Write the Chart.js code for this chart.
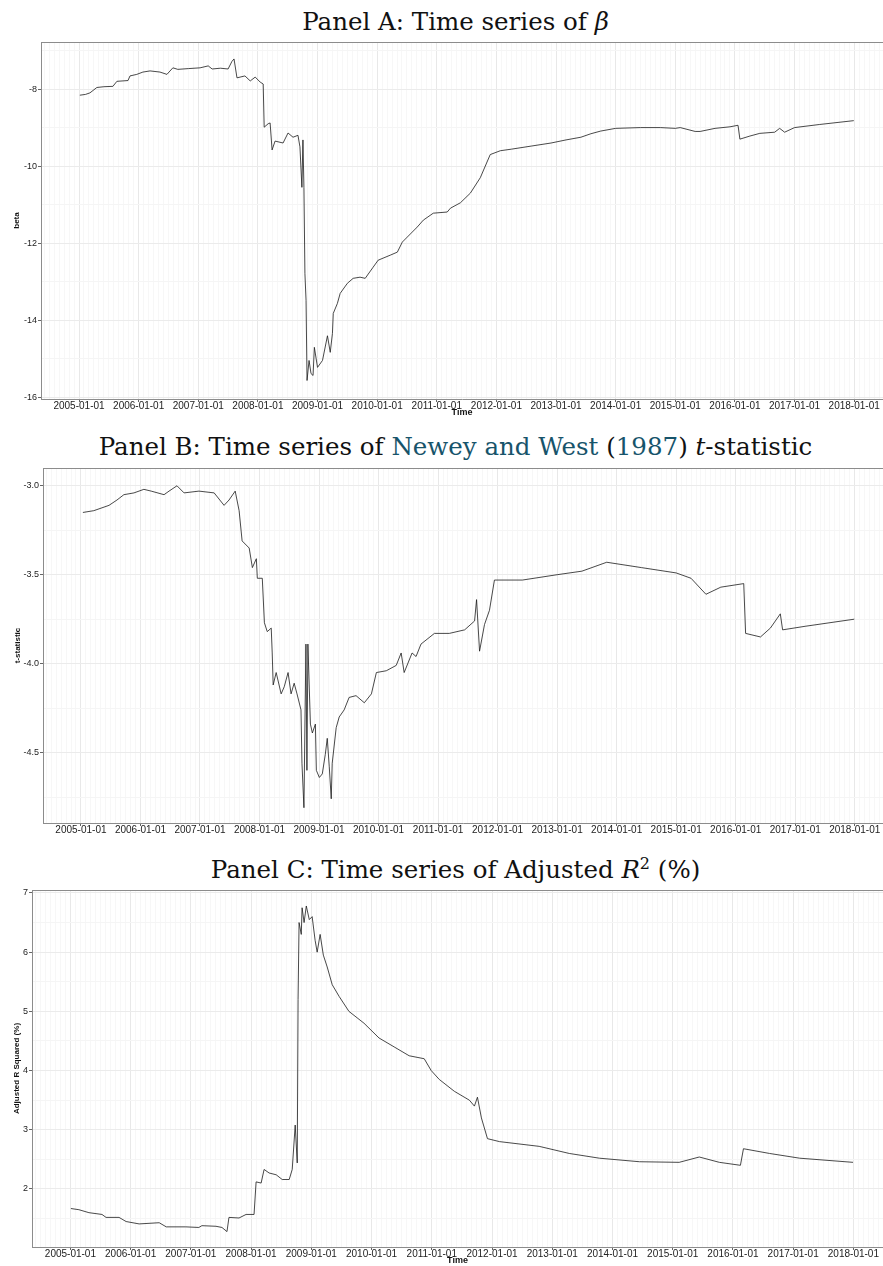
<!DOCTYPE html>
<html>
<head>
<meta charset="utf-8">
<script src="https://cdn.jsdelivr.net/npm/chart.js@4.4.0/dist/chart.umd.min.js"></script>
<style>
  html, body { margin: 0; padding: 0; background: #fff; }
  body { width: 883px; height: 1266px; position: relative; overflow: hidden; }
  .title { position: absolute; left: 14px; width: 883px; text-align: center; font-family: "DejaVu Serif", "Liberation Serif", serif; font-size: 24.5px; color: #111; white-space: nowrap; line-height: 28px; }
  .title .link { color: #17546b; }
  .box { position: absolute; left: 0; width: 883px; }
</style>
</head>
<body>
<div class="title" style="top:8px">Panel A: Time series of <i>β</i></div>
<div class="box" style="top:30px;height:388px"><canvas id="chartA"></canvas></div>
<div class="title" style="top:433px">Panel B: Time series of <span class="link">Newey and West</span> (<span class="link">1987</span>) <i>t</i>-statistic</div>
<div class="box" style="top:455px;height:380px"><canvas id="chartB"></canvas></div>
<div class="title" style="top:856px">Panel C: Time series of Adjusted <i>R</i><sup style="font-size:16px;line-height:0">2</sup> (%)</div>
<div class="box" style="top:878px;height:388px"><canvas id="chartC"></canvas></div>
<script>
// Panel A: rolling beta
const betaDates = ['2005-01-06','2005-02-10','2005-03-07','2005-04-19','2005-06-01','2005-07-26','2005-08-20','2005-10-27','2005-11-09','2005-12-20',
  '2006-01-27','2006-03-10','2006-05-10','2006-06-22','2006-07-28','2006-08-28','2006-11-01','2007-01-12','2007-03-01','2007-03-25',
  '2007-05-15','2007-07-01','2007-07-25','2007-08-07','2007-08-25','2007-10-13','2007-11-15','2007-12-15','2008-01-15','2008-02-03',
  '2008-02-09','2008-03-03','2008-03-15','2008-03-27','2008-04-15','2008-06-03','2008-07-03','2008-08-03','2008-09-03','2008-09-15',
  '2008-09-27','2008-10-03','2008-10-09','2008-10-15','2008-10-22','2008-10-28','2008-11-10','2008-11-22','2008-12-04','2008-12-12',
  '2009-01-01','2009-02-01','2009-03-01','2009-03-18','2009-04-01','2009-04-06','2009-05-01','2009-05-18','2009-07-01','2009-08-06',
  '2009-09-18','2009-10-19','2009-12-07','2010-01-07','2010-03-20','2010-05-03','2010-06-03','2010-07-03','2010-09-03','2010-10-10',
  '2010-12-10','2011-03-04','2011-03-24','2011-05-24','2011-07-24','2011-09-24','2011-11-24','2012-01-25','2012-04-01','2012-08-01',
  '2012-12-01','2013-03-01','2013-06-01','2013-08-01','2013-10-01','2014-01-01','2014-06-01','2014-10-01','2015-01-01','2015-02-01',
  '2015-05-01','2015-06-01','2015-09-01','2015-12-01','2016-01-20','2016-02-01','2016-04-01','2016-06-01','2016-09-01','2016-10-01',
  '2016-11-01','2017-01-01','2017-06-01','2017-12-29'];
const betaValues = [-8.16,-8.14,-8.10,-7.96,-7.94,-7.93,-7.80,-7.78,-7.66,-7.62,
  -7.56,-7.53,-7.56,-7.62,-7.45,-7.49,-7.47,-7.45,-7.40,-7.48,
  -7.46,-7.48,-7.28,-7.22,-7.71,-7.66,-7.79,-7.69,-7.82,-7.87,
  -8.99,-8.90,-8.88,-9.58,-9.35,-9.40,-9.14,-9.25,-9.20,-9.50,
  -10.55,-9.32,-10.55,-12.78,-13.48,-15.56,-15.04,-15.38,-15.43,-14.70,
  -15.22,-15.04,-14.40,-14.83,-14.34,-13.82,-13.56,-13.30,-13.04,-12.91,
  -12.88,-12.91,-12.62,-12.44,-12.31,-12.23,-11.97,-11.84,-11.58,-11.40,
  -11.22,-11.19,-11.09,-10.95,-10.70,-10.30,-9.70,-9.60,-9.56,-9.48,
  -9.40,-9.32,-9.25,-9.16,-9.09,-9.02,-9.00,-9.00,-9.02,-9.00,
  -9.10,-9.10,-9.02,-8.98,-8.94,-9.30,-9.22,-9.15,-9.12,-9.02,
  -9.12,-9.00,-8.92,-8.82];

// Panel B: Newey-West t-statistic
const tDates = ['2005-01-13','2005-03-19','2005-06-21','2005-08-09','2005-09-21','2005-11-22','2006-01-22','2006-03-06','2006-05-24','2006-06-24',
  '2006-08-12','2006-09-25','2006-12-25','2007-03-27','2007-05-27','2007-06-27','2007-08-04','2007-08-28','2007-09-16','2007-10-29',
  '2007-11-18','2007-12-12','2007-12-18','2008-01-18','2008-01-31','2008-02-18','2008-03-12','2008-03-18','2008-03-24','2008-04-12',
  '2008-05-12','2008-05-31','2008-06-24','2008-07-12','2008-07-31','2008-08-18','2008-09-12','2008-09-18','2008-09-30','2008-10-12',
  '2008-10-18','2008-10-24','2008-11-09','2008-11-21','2008-12-09','2008-12-15','2009-01-03','2009-01-21','2009-02-09','2009-02-21',
  '2009-03-03','2009-03-15','2009-03-21','2009-04-15','2009-05-03','2009-06-03','2009-07-03','2009-08-15','2009-10-05','2009-11-18',
  '2009-12-18','2010-02-18','2010-04-18','2010-05-18','2010-06-06','2010-07-24','2010-08-18','2010-09-18','2010-12-09','2011-03-09',
  '2011-06-12','2011-08-12','2011-08-24','2011-09-12','2011-10-12','2011-11-12','2011-12-12','2012-06-01','2013-01-01','2013-06-01',
  '2013-11-01','2014-06-01','2015-01-01','2015-04-01','2015-07-01','2015-10-01','2016-02-20','2016-03-01','2016-06-01','2016-08-01',
  '2016-10-01','2016-10-15','2017-03-01','2017-12-29'];
const tValues = [-3.15,-3.14,-3.11,-3.08,-3.05,-3.04,-3.02,-3.03,-3.05,-3.03,
  -3.00,-3.04,-3.03,-3.04,-3.11,-3.08,-3.03,-3.14,-3.31,-3.35,
  -3.46,-3.41,-3.52,-3.52,-3.77,-3.82,-3.80,-3.94,-4.12,-4.05,
  -4.17,-4.13,-4.05,-4.17,-4.11,-4.17,-4.26,-4.56,-4.81,-3.89,
  -4.60,-3.89,-4.34,-4.39,-4.34,-4.60,-4.64,-4.62,-4.51,-4.42,
  -4.58,-4.76,-4.56,-4.36,-4.30,-4.26,-4.19,-4.18,-4.22,-4.17,
  -4.05,-4.04,-4.01,-3.94,-4.05,-3.94,-3.96,-3.89,-3.83,-3.83,
  -3.81,-3.76,-3.64,-3.93,-3.78,-3.70,-3.53,-3.53,-3.50,-3.48,
  -3.43,-3.46,-3.49,-3.52,-3.61,-3.57,-3.55,-3.83,-3.85,-3.80,
  -3.72,-3.81,-3.79,-3.75];

// Panel C: adjusted R squared (%)
const r2Dates = ['2005-01-04','2005-02-22','2005-04-22','2005-07-10','2005-08-04','2005-10-22','2005-12-04','2006-02-22','2006-06-22','2006-08-04',
  '2006-12-01','2007-02-19','2007-03-07','2007-06-01','2007-07-07','2007-08-07','2007-08-19','2007-10-19','2007-12-01','2008-01-19',
  '2008-02-01','2008-03-01','2008-03-19','2008-04-19','2008-06-01','2008-07-07','2008-08-19','2008-09-07','2008-09-25','2008-10-07',
  '2008-10-12','2008-10-18','2008-11-01','2008-11-06','2008-11-18','2008-12-01','2008-12-19','2009-01-06','2009-01-24','2009-02-06',
  '2009-02-24','2009-03-13','2009-04-06','2009-05-06','2009-06-18','2009-08-16','2009-11-16','2010-02-16','2010-05-16','2010-08-16',
  '2010-11-16','2010-12-28','2011-02-16','2011-05-16','2011-08-16','2011-09-16','2011-10-04','2011-10-28','2011-12-04','2012-02-16',
  '2012-10-13','2013-04-13','2013-10-13','2014-06-13','2015-02-10','2015-06-10','2015-10-10','2016-02-16','2016-03-04','2016-08-10',
  '2017-02-10','2017-12-29'];
const r2Values = [1.67,1.65,1.60,1.57,1.52,1.52,1.45,1.41,1.43,1.36,
  1.36,1.35,1.38,1.37,1.35,1.28,1.52,1.51,1.57,1.57,
  2.12,2.10,2.33,2.27,2.24,2.16,2.16,2.33,3.08,2.44,
  5.20,6.50,6.30,6.75,6.50,6.78,6.55,6.60,6.20,6.00,
  6.30,5.95,5.75,5.45,5.25,5.00,4.80,4.55,4.40,4.25,
  4.20,4.00,3.85,3.65,3.50,3.40,3.55,3.20,2.85,2.80,
  2.72,2.60,2.52,2.46,2.45,2.54,2.45,2.40,2.68,2.60,
  2.52,2.45];

const yearTicks = ['2005','2006','2007','2008','2009','2010','2011','2012','2013','2014','2015','2016','2017','2018'];

// months since 2005-01-01
function toMonths(s) {
  const [y, m, d] = s.split('-').map(Number);
  return (y - 2005) * 12 + (m - 1) + (d - 1) / 30.4;
}

const topBorder = {
  id: 'topBorder',
  afterDraw(chart) {
    const { ctx, chartArea: a } = chart;
    ctx.save();
    ctx.strokeStyle = '#8c8c8c';
    ctx.lineWidth = 1;
    ctx.beginPath();
    ctx.moveTo(a.left, a.top + 0.5);
    ctx.lineTo(a.right, a.top + 0.5);
    ctx.stroke();
    ctx.restore();
  }
};

function makeChart(id, cfg) {
  const pts = cfg.dates.map((d, i) => ({ x: toMonths(d), y: cfg.values[i] }));
  const isMajorY = v => Math.abs(v / cfg.yMajor - Math.round(v / cfg.yMajor)) < 1e-6;
  const isMajorX = v => Number.isInteger(v) && v % 12 === 0 && v >= 0 && v <= 156;
  return new Chart(document.getElementById(id), {
    type: 'line',
    data: {
      datasets: [{
        data: pts,
        borderColor: '#1a1a1a',
        borderWidth: 0.8,
        pointRadius: 0,
        tension: 0,
      }],
    },
    plugins: [topBorder],
    options: {
      responsive: true,
      maintainAspectRatio: false,
      animation: false,
      layout: { padding: { top: cfg.padTop, right: 0, left: 0, bottom: 0 } },
      plugins: { legend: { display: false }, tooltip: { enabled: false } },
      scales: {
        x: {
          type: 'linear',
          min: -7.65,
          max: cfg.xMax,
          afterFit: s => { s.height = cfg.xHeight; },
          ticks: {
            stepSize: 1,
            includeBounds: false,
            autoSkip: false,
            maxRotation: 0,
            padding: -2,
            color: '#222',
            font: { family: 'Liberation Sans, Arial, sans-serif', size: 10 },
            callback: v => isMajorX(v) ? yearTicks[v / 12] + '-01-01' : '',
          },
          grid: {
            color: c => isMajorX(c.tick.value) ? '#e8e8e8' : '#f3f3f3',
            lineWidth: c => isMajorX(c.tick.value) ? 1 : 0.7,
            tickLength: 3,
            tickColor: c => isMajorX(c.tick.value) ? '#666' : 'rgba(0,0,0,0)',
          },
          border: { color: '#8c8c8c', width: 1 },
          title: {
            display: cfg.showTime,
            text: 'Time',
            color: '#111',
            font: { family: 'Liberation Sans, Arial, sans-serif', size: 9, weight: 'bold' },
            padding: { top: 0, bottom: 0 },
          },
        },
        y: {
          min: cfg.yMin,
          max: cfg.yMax,
          afterFit: s => { s.width = cfg.yWidth; },
          ticks: {
            stepSize: cfg.yMajor / 2,
            includeBounds: false,
            autoSkip: false,
            padding: 1,
            color: '#222',
            font: { family: 'Liberation Sans, Arial, sans-serif', size: 9 },
            callback: v => isMajorY(v) ? v.toFixed(cfg.yDigits) : '',
          },
          grid: {
            color: c => isMajorY(c.tick.value) ? '#ebebeb' : '#f5f5f5',
            lineWidth: 1,
            tickLength: 3,
            tickColor: c => isMajorY(c.tick.value) ? '#666' : 'rgba(0,0,0,0)',
          },
          border: { color: '#8c8c8c', width: 1 },
          title: {
            display: true,
            text: cfg.yTitle,
            color: '#111',
            font: { family: 'Liberation Sans, Arial, sans-serif', size: 8, weight: 'bold' },
            padding: { top: cfg.yTitlePad, bottom: 0 },
          },
        },
      },
    },
  });
}

makeChart('chartA', {
  dates: betaDates, values: betaValues, yMin: -16.04, yMax: -6.78, yMajor: 2, yDigits: 0,
  yTitle: 'beta', yWidth: 41, yTitlePad: 12, xMax: 161.8, xHeight: 19, padTop: 12, showTime: true,
});
makeChart('chartB', {
  dates: tDates, values: tValues, yMin: -4.896, yMax: -2.90, yMajor: 0.5, yDigits: 1,
  yTitle: 't-statistic', yWidth: 43, yTitlePad: 13, xMax: 161.7, xHeight: 12, padTop: 13, showTime: false,
});
makeChart('chartC', {
  dates: r2Dates, values: r2Values, yMin: 1.02, yMax: 7.05, yMajor: 1, yDigits: 0,
  yTitle: 'Adjusted R Squared (%)', yWidth: 32, yTitlePad: 12, xMax: 161.9, xHeight: 19, padTop: 12, showTime: true,
});
</script>
</body>
</html>
